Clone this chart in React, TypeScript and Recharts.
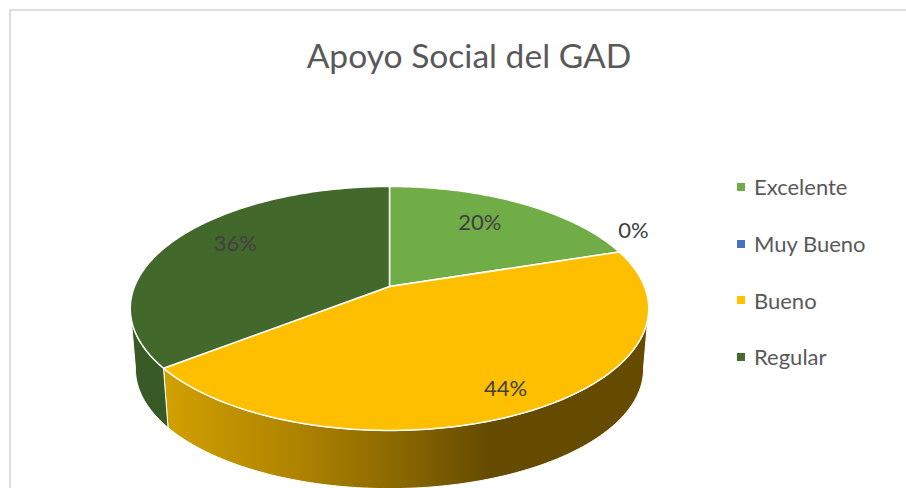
import React from 'react';
import { PieChart, Pie, Legend } from 'recharts';

const categories = ['Excelente', 'Muy Bueno', 'Bueno', 'Regular'];
const responses = [9, 0, 20, 16];
const topColors = ['#70ad47', '#4472c4', '#fdbf00', '#43682b'];
const wallColors = ['#4f7a33', '#2f5597', 'url(#goldWall)', '#385a26'];
const legendColors = ['#70ad47', '#4472c4', '#ffc000', '#476b2e'];

const labelRadius = [0.66, 1.065, 0.84, 0.71];
const labelLift = [-7, -20, 0, -9];

const pieData = categories.map((name, i) => ({ name, value: responses[i], fill: legendColors[i] }));

// the pie is tilted: a circle pushed through a simple perspective
const TILT = 0.463;
const PERSPECTIVE = 0.18;
const WALL_DROP = 61;
const WALL_SCALE = 0.98;
const WALL_FROM = 100;
const WALL_TO = 260;

const project = (cx: number, cy: number, radius: number, clockDeg: number, r = 1) => {
  const a = (clockDeg * Math.PI) / 180;
  const u = Math.sin(a) * r;
  const v = -Math.cos(a) * r;
  const w = 1 - PERSPECTIVE * v;
  return [cx + (u / w) * radius, cy + (v / w) * radius * TILT];
};

const rim = (cx: number, cy: number, radius: number, from: number, to: number) => {
  const pts: number[][] = [];
  const steps = Math.max(2, Math.ceil(Math.abs(to - from)));
  for (let i = 0; i <= steps; i++) {
    pts.push(project(cx, cy, radius, from + ((to - from) * i) / steps));
  }
  return pts;
};

const toPath = (pts: number[][]) =>
  pts.map((p, i) => `${i === 0 ? 'M' : 'L'}${p[0].toFixed(2)} ${p[1].toFixed(2)}`).join(' ') + ' Z';

const Slice3D = (props: any) => {
  const { cx, cy, outerRadius, startAngle, endAngle, index } = props;
  if (Math.abs(endAngle - startAngle) < 0.01) return <g />;
  const from = 90 - startAngle;
  const to = 90 - endAngle;
  const wallFrom = Math.max(from, WALL_FROM);
  const wallTo = Math.min(to, WALL_TO);
  let wall = null;
  if (wallTo > wallFrom) {
    const upper = rim(cx, cy, outerRadius, wallFrom, wallTo);
    const lower = rim(cx, cy + WALL_DROP, outerRadius * WALL_SCALE, wallTo, wallFrom);
    wall = <path d={toPath([...upper, ...lower])} fill={wallColors[index]} stroke="#fff" strokeWidth={1} />;
  }
  const top = [[cx, cy], ...rim(cx, cy, outerRadius, from, to)];
  return (
    <g>
      {wall}
      <path d={toPath(top)} fill={topColors[index]} stroke="#fff" strokeWidth={1.5} strokeLinejoin="round" />
    </g>
  );
};

const renderLabel = (props: any) => {
  const { cx, cy, midAngle, index, percent, outerRadius } = props;
  const [x, y] = project(cx, cy, outerRadius, 90 - midAngle, labelRadius[index]);
  return (
    <text
      x={x}
      y={y + labelLift[index]}
      textAnchor="middle"
      dominantBaseline="central"
      fontFamily="Lato, sans-serif"
      fontSize={22}
      fill="#404040"
    >
      {`${Math.round(percent * 100)}%`}
    </text>
  );
};

const LegendList = ({ payload }: any) => (
  <div>
    {(payload || []).map((entry: any) => (
      <div key={entry.value} style={{ display: 'flex', alignItems: 'center', height: 56.7 }}>
        <span style={{ width: 8, height: 8, marginRight: 9, background: entry.color, display: 'inline-block' }} />
        <span style={{ fontFamily: 'Lato, sans-serif', fontSize: 22, color: '#595959', whiteSpace: 'nowrap' }}>
          {entry.value}
        </span>
      </div>
    ))}
  </div>
);

const App = () => (
  <div style={{ position: 'absolute', left: 0, top: 0, width: 906, height: 488, overflow: 'hidden', background: '#fff' }}>
    <div style={{ position: 'absolute', left: 9, top: 9, right: 0, bottom: 0, borderLeft: '2px solid #dedede', borderTop: '2px solid #dedede' }} />
    <div style={{ position: 'absolute', left: 0, top: 0 }}>
      <PieChart width={906} height={488} margin={{ top: 0, right: 0, bottom: 0, left: 0 }}>
        <defs>
          <linearGradient id="goldWall" gradientUnits="userSpaceOnUse" x1={165} y1={0} x2={490} y2={0}>
            <stop offset="0" stopColor="#d1a000" />
            <stop offset="0.42" stopColor="#ad8200" />
            <stop offset="0.72" stopColor="#8a6800" />
            <stop offset="1" stopColor="#644b00" />
          </linearGradient>
        </defs>
        <text x={469} y={55} textAnchor="middle" dominantBaseline="central" fontFamily="Lato, sans-serif" fontSize={33.6} fill="#595959">
          Apoyo Social del GAD
        </text>
        <Pie
          data={pieData}
          dataKey="value"
          nameKey="name"
          cx={389.5}
          cy={286.5}
          outerRadius={255}
          startAngle={90}
          endAngle={-270}
          stroke="none"
          shape={Slice3D}
          label={renderLabel}
          labelLine={false}
          isAnimationActive={false}
        />
        <Legend
          layout="vertical"
          content={<LegendList />}
          itemSorter={null}
          wrapperStyle={{ position: 'absolute', left: 737, top: 158.5, width: 160 }}
        />
      </PieChart>
    </div>
  </div>
);

export default App;
